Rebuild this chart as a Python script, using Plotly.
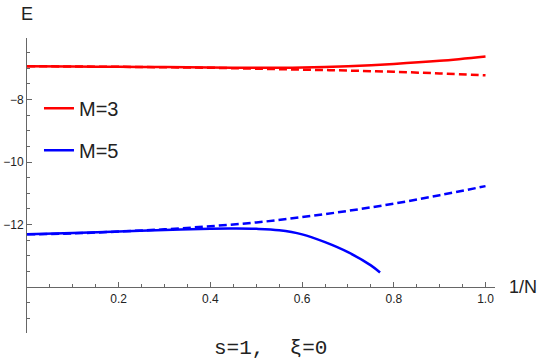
import plotly.graph_objects as go

# ---- data ----
x_red = [0.0, 0.1, 0.2, 0.3, 0.4, 0.5, 0.6, 0.7, 0.8, 0.9, 1.0]
red_solid = [-6.94, -6.95, -6.96, -6.97, -6.98, -6.99, -6.98, -6.94, -6.87, -6.77, -6.63]
red_dash = [-6.94, -6.95, -6.96, -6.975, -6.99, -7.02, -7.05, -7.08, -7.12, -7.17, -7.23]

x_blue_solid = [0.0, 0.1, 0.2, 0.3, 0.4, 0.45, 0.5, 0.55, 0.6, 0.65, 0.7, 0.75, 0.77]
blue_solid = [-12.31, -12.27, -12.22, -12.17, -12.13, -12.125, -12.135, -12.18, -12.31,
              -12.56, -12.88, -13.30, -13.53]
x_blue_dash = [0.0, 0.1, 0.2, 0.3, 0.4, 0.5, 0.6, 0.7, 0.8, 0.9, 1.0]
blue_dash = [-12.31, -12.28, -12.22, -12.15, -12.05, -11.93, -11.76, -11.56, -11.33, -11.06, -10.77]

x_range = [0.0, 1.0207]
y_range = [-15.46, -6.04]
x_cross = -14.0  # y value where the horizontal axis crosses

x_major = [0.2, 0.4, 0.6, 0.8, 1.0]
x_major_text = ["0.2", "0.4", "0.6", "0.8", "1.0"]
x_minor = [round(0.05 * i, 2) for i in range(0, 21) if i % 4 != 0]
y_major = [-12, -10, -8]
y_major_text = ["\u221212", "\u221210", "\u22128"]
y_minor = [v / 2 for v in range(-31, -12) if v % 4 != 0]

RED = "#ff0000"
BLUE = "#0000ff"
AX = "#666666"
TXT = "#222222"
LW = 2.5
DASH = "8px,4px"

fig = go.Figure()
fig.add_trace(go.Scatter(x=x_red, y=red_solid, mode="lines", name="M=3",
                         line=dict(color=RED, width=LW, shape="spline"), legendgroup="a"))
fig.add_trace(go.Scatter(x=x_red, y=red_dash, mode="lines", showlegend=False,
                         line=dict(color=RED, width=LW, dash=DASH, shape="spline")))
fig.add_trace(go.Scatter(x=x_blue_solid, y=blue_solid, mode="lines", name="M=5",
                         line=dict(color=BLUE, width=LW, shape="spline"), legendgroup="b"))
fig.add_trace(go.Scatter(x=x_blue_dash, y=blue_dash, mode="lines", showlegend=False,
                         line=dict(color=BLUE, width=LW, dash=DASH, shape="spline")))

xpos = (x_cross - y_range[0]) / (y_range[1] - y_range[0])

fig.update_layout(
    width=542, height=361,
    margin=dict(l=27, r=47, t=38, b=28),
    paper_bgcolor="white", plot_bgcolor="white",
    font=dict(family="Liberation Sans", size=12, color=TXT),
    xaxis=dict(range=x_range, anchor="free", position=xpos, showgrid=False, zeroline=False,
               automargin=False,
               showline=True, linecolor=AX, linewidth=1,
               tickvals=x_major, ticktext=x_major_text, ticks="inside", ticklen=5,
               tickcolor=AX, tickfont=dict(size=12, color=TXT),
               minor=dict(tickvals=x_minor, ticks="inside", ticklen=3, tickcolor=AX)),
    yaxis=dict(range=y_range, showgrid=False, zeroline=False, automargin=False,
               showline=True, linecolor=AX, linewidth=1,
               tickvals=y_major, ticktext=y_major_text, ticks="inside", ticklen=5,
               tickcolor=AX, tickfont=dict(size=12, color=TXT),
               minor=dict(tickvals=y_minor, ticks="inside", ticklen=3, tickcolor=AX)),
    legend=dict(x=0.0256, y=0.828, xanchor="left", yanchor="top",
                font=dict(size=20, family="Liberation Sans", color=TXT),
                bgcolor="rgba(0,0,0,0)", tracegroupgap=13),
    showlegend=True,
)

fig.add_annotation(text="E", xref="x", x=0, yref="paper", y=1, xanchor="center",
                   yanchor="bottom", yshift=12, showarrow=False,
                   font=dict(size=18, family="Liberation Sans", color=TXT))
fig.add_annotation(text="1/N", xref="paper", x=1, yref="y", y=x_cross, xanchor="left",
                   yanchor="middle", xshift=12, showarrow=False,
                   font=dict(size=18, family="Liberation Sans", color=TXT))
fig.add_annotation(text="s=1,  \u03be=0", xref="paper", x=(270 - 27) / 468, yref="paper",
                   y=-0.052, xanchor="center", yanchor="middle", showarrow=False,
                   font=dict(size=21, family="Liberation Mono", color=TXT))

fig.write_html("out.html")
